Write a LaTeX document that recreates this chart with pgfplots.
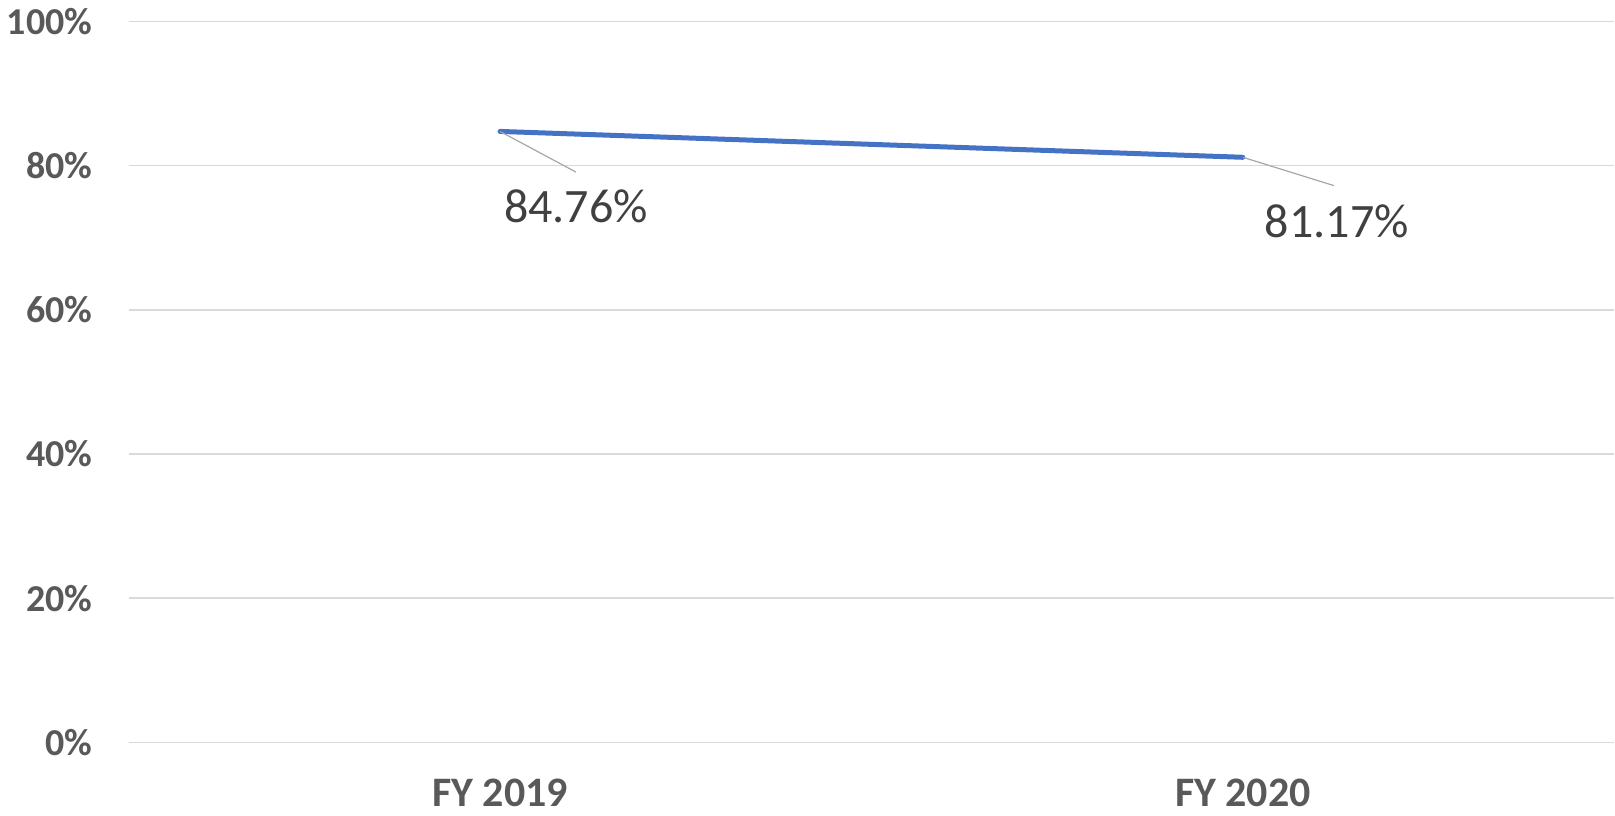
\documentclass[border=0pt]{standalone}
\usepackage{pgfplots}
\pgfplotsset{compat=1.18}
\usepackage{fontspec}
\setmainfont{Carlito}
\definecolor{linec}{HTML}{4472C4}
\definecolor{gridc}{HTML}{D9D9D9}
\definecolor{tickc}{HTML}{595959}
\definecolor{labc}{HTML}{404040}
\definecolor{leadc}{HTML}{A6A6A6}
\begin{document}
\begin{tikzpicture}
\begin{axis}[
  name=a,
  scale only axis,
  width=743.15pt, height=360.5pt,
  xmin=-0.5, xmax=1.5,
  ymin=0, ymax=100,
  xtick={0,1}, xticklabels={FY 2019, FY 2020},
  ytick={0,20,40,60,80,100},
  yticklabels={0\%,20\%,40\%,60\%,80\%,100\%},
  ymajorgrids,
  grid style={color=gridc, line width=0.75pt},
  axis line style={draw=none},
  major tick length=0pt,
  tick style={draw=none},
  yticklabel style={font=\fontsize{19}{21}\selectfont\bfseries, text=tickc, inner sep=0pt, anchor=east, xshift=-18pt},
  xticklabel style={font=\fontsize{21}{23}\selectfont\bfseries, text=tickc, inner sep=0pt, anchor=north, yshift=-18pt},
  clip=false,
]
\addplot[color=linec, line width=2.5pt, line cap=round, mark=none] coordinates {(0,84.76) (1,81.17)};
\draw[leadc, line width=0.6pt] (axis cs:0,84.76) -- ++(38pt,-20.35pt);
\draw[leadc, line width=0.6pt] (axis cs:1,81.17) -- ++(45.5pt,-14.15pt);
\node[inner sep=0pt, text=labc, font=\fontsize{24}{26}\selectfont] at ([xshift=38pt,yshift=-37.5pt]axis cs:0,84.76) {84.76\%};
\node[inner sep=0pt, text=labc, font=\fontsize{24}{26}\selectfont] at ([xshift=47pt,yshift=-32pt]axis cs:1,81.17) {81.17\%};
\end{axis}
\path ([shift={(-64.35pt,-36.7pt)}]a.south west) rectangle ([yshift=10.8pt]a.north east);
\end{tikzpicture}
\end{document}
